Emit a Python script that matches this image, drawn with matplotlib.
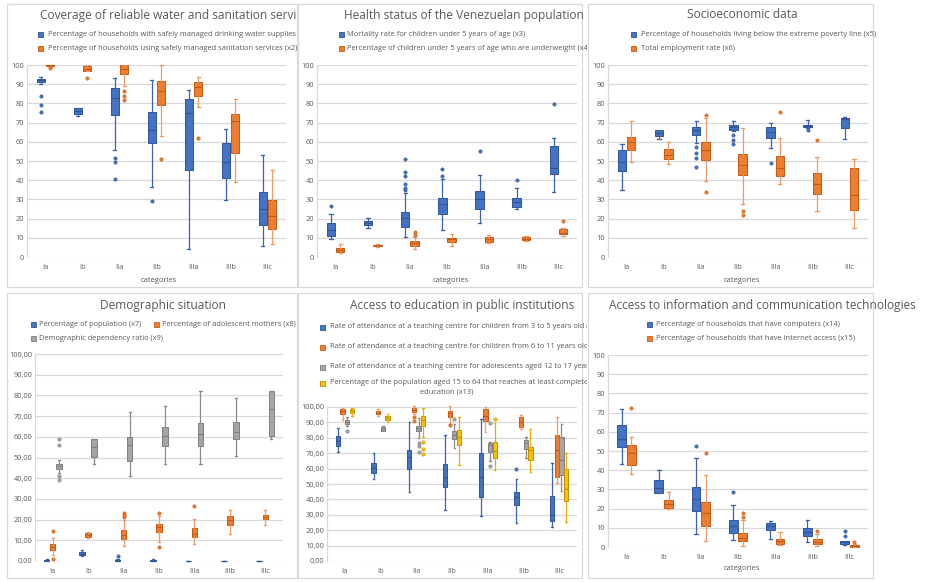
import numpy as np
import matplotlib
matplotlib.use('Agg')
import matplotlib.pyplot as plt
from matplotlib.patches import Rectangle
from matplotlib.transforms import Bbox, TransformedBbox

# box stats per category: (whisker low, q1, median, q3, whisker high)
cats = ['Ia', 'Ib', 'IIa', 'IIb', 'IIIa', 'IIIb', 'IIIc']

# --- water and sanitation
water = [(90.3, 91.0, 92.0, 92.9, 93.6), (73.6, 74.4, 76.0, 77.6, 77.6), (55.7, 73.9, 82.6, 87.8, 93.2),
         (36.7, 59.3, 66.3, 75.7, 92.0), (4.2, 45.2, 75.0, 82.4, 87.1), (29.7, 40.9, 49.6, 59.3, 66.6),
         (5.9, 16.5, 25.2, 33.6, 53.0)]
water_out = [[84, 79, 75.3], [], [51.4, 49.4, 40.5], [29], [], [], []]
sanit = [(99.2, 99.4, 99.8, 100, 100), (96.7, 96.7, 97.9, 99.3, 100), (88.9, 95.3, 97.9, 100, 100),
         (62.8, 79.1, 86.4, 91.7, 100), (78.1, 83.8, 88.5, 91.1, 93.6), (39.1, 54.4, 71.0, 74.3, 82.1),
         (7.0, 14.8, 21.6, 29.6, 45.4)]
sanit_out = [[98.3], [93], [86.3, 83.8, 81.9], [50.8], [62.1], [], []]

# --- health
mort = [(9.4, 11.1, 14.1, 17.6, 22.3), (15.0, 16.9, 17.9, 18.8, 20.2), (10.3, 15.8, 20.2, 23.5, 33.2),
        (14.1, 22.3, 27.7, 30.6, 40.6), (17.7, 24.9, 30.1, 34.6, 42.8), (24.9, 26.3, 28.7, 30.6, 35.7),
        (33.9, 43.3, 46.3, 57.9, 62.1)]
mort_out = [[26.8], [], [51, 44.3, 42, 37.9, 35.7, 34.8], [46, 42.3], [55.3], [40], [79.7]]
under = [(1.9, 2.4, 3.7, 4.5, 6.6), (5.4, 5.6, 6.0, 6.3, 6.6), (4.0, 5.9, 7.1, 8.2, 10.6),
         (5.9, 7.8, 9.2, 10.1, 11.8), (7.1, 7.8, 9.6, 10.4, 11.7), (8.3, 8.9, 9.6, 10.3, 11.1),
         (10.8, 11.8, 12.7, 14.4, 15.3)]
under_out = [[], [], [13.2, 11.3], [], [], [], [18.6]]

# --- socioeconomic
poverty = [(34.8, 44.9, 49.7, 55.8, 58.8), (61.7, 63.0, 64.5, 66.1, 66.1), (59.5, 63.7, 66.1, 67.8, 70.8),
           (65.6, 66.4, 67.8, 69.0, 70.8), (56.9, 62.1, 65.2, 67.8, 69.9), (67.0, 67.5, 68.2, 69.0, 71.1),
           (61.4, 67.1, 71.8, 72.3, 72.7)]
poverty_out = [[], [], [57.2, 54, 51.8, 46.8], [63.3, 61, 58.8], [49], [65.9], []]
employ = [(49.4, 55.5, 60.0, 62.4, 70.8), (48.3, 51.0, 53.2, 56.2, 59.8), (39.7, 50.6, 55.5, 60.0, 72.5),
          (27.7, 42.6, 47.8, 53.9, 67.1), (37.9, 42.3, 46.6, 52.7, 62.1), (23.8, 32.7, 38.1, 43.8, 52.0),
          (15.3, 24.5, 32.3, 46.6, 50.8)]
employ_out = [[], [], [74, 34], [24, 22], [75.3], [61], []]

# --- demographic
popul = [(0, 0, 0.3, 0.6, 1.1), (2.4, 2.8, 3.5, 4.4, 5.5), (0, 0, 0.2, 0.6, 1.0), (0, 0, 0.2, 0.5, 0.8),
         (0, 0, 0.05, 0.15, 0.2), (0, 0, 0.05, 0.15, 0.2), (0, 0, 0.05, 0.15, 0.2)]
popul_out = [[], [], [2.2], [], [], [], []]
mothers = [(2.7, 5.3, 6.8, 8.1, 11.3), (11.3, 11.6, 12.6, 13.4, 13.9), (7.4, 10.8, 12.6, 14.8, 19.7),
           (9.2, 14.2, 16.3, 18.1, 21.6), (8.4, 11.5, 13.1, 16.1, 20.5), (13.2, 17.6, 20.0, 21.8, 24.5),
           (17.6, 20.2, 21.3, 22.4, 24.8)]
mothers_out = [[14.7, 1.1], [], [23, 22, 21.3], [23.4, 6.8], [26.6], [], []]
depend = [(42.6, 44.5, 46.0, 46.9, 48.9), (46.8, 50.3, 55.3, 58.7, 58.7), (41.0, 48.5, 56.1, 59.7, 71.8),
          (46.8, 55.6, 60.6, 64.5, 74.8), (46.8, 55.6, 61.3, 66.6, 81.9), (50.6, 58.7, 62.3, 67.3, 78.9),
          (58.7, 60.6, 73.2, 81.9, 81.9)]
depend_out = [[59, 56, 41, 39], [], [], [], [], [], []]

# --- education
pre = [(71.1, 74.8, 78.0, 81.3, 86.2), (53.0, 56.9, 60.6, 63.6, 70.0), (44.6, 59.9, 67.5, 72.2, 90.5),
       (33.2, 47.8, 54.3, 62.9, 81.5), (29.3, 41.8, 54.3, 70.3, 92.2), (24.6, 36.2, 41.8, 44.6, 53.2),
       (22.4, 25.9, 30.0, 42.0, 63.8)]
pre_out = [[], [], [], [], [], [59.9], []]
prim = [(91.8, 95.7, 97.4, 98.5, 99.6), (94.4, 95.5, 96.3, 97.4, 98.5), (95.3, 96.6, 97.8, 99.1, 100.9),
        (89.2, 93.8, 96.1, 97.4, 100.9), (83.8, 91.2, 94.4, 98.5, 100), (85.8, 87.1, 90.1, 93.3, 95.0),
        (50.9, 54.7, 72.4, 81.9, 93.3)]
prim_out = [[], [], [93.5, 91], [88], [], [], []]
sec = [(87.9, 88.8, 90.3, 91.6, 93.3), (84.3, 84.7, 85.8, 86.9, 87.5), (79.7, 84.5, 86.4, 87.9, 92.7),
       (73.7, 79.5, 82.1, 84.3, 89.2), (65.1, 70.9, 75.2, 76.3, 77.4), (67.0, 72.8, 76.3, 78.7, 80.2),
       (45.5, 55.8, 65.5, 80.2, 88.8)]
sec_out = [[84.5], [], [76.3, 74.6, 70.5], [92], [89.4, 61.9], [], []]
compl = [(94.4, 96.1, 97.4, 98.5, 99.4), (90.1, 91.4, 92.7, 94.2, 95.5), (80.6, 87.9, 91.4, 94.4, 99.6),
         (62.3, 75.4, 80.6, 85.3, 93.3), (59.0, 67.0, 71.6, 77.2, 89.7), (57.8, 65.3, 72.0, 74.1, 86.0),
         (25.4, 38.8, 46.6, 59.5, 70.0)]
compl_out = [[], [], [77.2, 72.6, 69.2], [], [92.2], [], []]

# --- ICT
comp = [(43.3, 52.2, 56.5, 63.3, 72.1), (28.1, 28.1, 30.8, 34.7, 39.9), (6.9, 18.5, 25.0, 31.0, 46.4),
        (3.6, 7.3, 10.7, 14.2, 22.0), (4.3, 8.7, 10.9, 12.3, 13.7), (2.4, 5.9, 8.0, 10.1, 13.9),
        (0.9, 1.6, 2.4, 3.3, 3.3)]
comp_out = [[], [], [52.7], [28.6], [], [], [8.1, 5.9]]
inet = [(38.1, 42.5, 48.7, 53.0, 57.4), (19.9, 20.5, 22.5, 24.6, 28.9), (3.3, 11.1, 17.5, 23.6, 37.4),
        (0.3, 2.9, 4.5, 7.5, 13.9), (0.9, 1.7, 2.9, 4.3, 7.6), (0.3, 1.6, 2.8, 4.0, 6.6),
        (0, 0, 0.5, 1.0, 1.5)]
inet_out = [[72.3], [], [48.9], [17.5, 15.4], [], [8.3], [2.4]]

W, H = 931, 582
plt.rcParams['font.family'] = ['Open Sans', 'DejaVu Sans']
fig = plt.figure(figsize=(W / 100, H / 100), dpi=100)

TXT = '#595959'
GRID = '#d9d9d9'
BLUE, ORANGE, GRAY, YELLOW = '#4472C4', '#ED7D31', '#A5A5A5', '#FFC000'
dark = {BLUE: '#2F5597', ORANGE: '#C55A11', GRAY: '#7F7F7F', YELLOW: '#BF9000'}
whisk = {BLUE: '#3A62B0', ORANGE: '#EE9A66', GRAY: '#8A8A8A', YELLOW: '#E6AC00'}
TITLE_FS = 8.6
LEG_FS = 5.4


def fx(x):
    return x / W


def fy(y):
    return 1 - y / H


def clipbox(x1):
    return TransformedBbox(Bbox([[0, 0], [fx(x1), 1]]), fig.transFigure)


def panel_frame(x0, y0, x1, y1):
    r = Rectangle((fx(x0), fy(y1)), fx(x1 - x0), (y1 - y0) / H, transform=fig.transFigure,
                  facecolor='white', edgecolor=GRID, lw=0.9, zorder=0)
    fig.add_artist(r)


def ftext(x, y, s, size, clip=None, ha='left'):
    t = fig.text(fx(x), fy(y), s, fontsize=size, color=TXT, ha=ha, va='center')
    if clip is not None:
        t.set_clip_box(clipbox(clip))
        t.set_clip_on(True)
    return t


def legend_item(mx, tx, y, label, color, clip=None):
    s = 5
    fig.add_artist(Rectangle((fx(mx - s / 2), fy(y + s / 2)), s / W, s / H, transform=fig.transFigure,
                             facecolor=color, edgecolor=dark[color], lw=0.6))
    ftext(tx, y, label, LEG_FS, clip)


def make_axes(x0, y0, x1, y1, comma=False):
    ax = fig.add_axes([fx(x0), fy(y1), fx(x1 - x0), (y1 - y0) / H])
    ax.set_xlim(-0.5, 6.5)
    ax.set_ylim(0, 100)
    ax.set_yticks(range(0, 101, 10))
    if comma:
        ax.set_yticklabels([f'{v},00' for v in range(0, 101, 10)])
    ax.set_xticks(range(len(cats)))
    ax.set_xticklabels(cats)
    ax.grid(axis='y', color=GRID, lw=0.9)
    ax.set_axisbelow(True)
    for sp in ['top', 'right', 'bottom']:
        ax.spines[sp].set_visible(False)
    ax.spines['left'].set_color(GRID)
    ax.spines['left'].set_linewidth(0.9)
    ax.tick_params(length=0, labelsize=5.3, colors=TXT)
    ax.tick_params(axis='y', pad=2)
    ax.tick_params(axis='x', pad=5)
    ax.patch.set_alpha(0)
    return ax


def draw_boxes(ax, series, outs, colors, width):
    n = len(series)
    offs = (np.arange(n) - (n - 1) / 2) * width
    for s, o, c, d in zip(series, outs, colors, offs):
        stats = [dict(whislo=v[0], q1=v[1], med=v[2], q3=v[3], whishi=v[4], fliers=f) for v, f in zip(s, o)]
        res = ax.bxp(stats, positions=np.arange(len(s)) + d, widths=width * 0.92, patch_artist=True,
                     capwidths=width * 0.35, manage_ticks=False,
                     boxprops=dict(facecolor=c, edgecolor=dark[c], lw=0.7),
                     medianprops=dict(color=dark[c], lw=0.8),
                     whiskerprops=dict(color=whisk[c], lw=0.9),
                     capprops=dict(color=whisk[c], lw=0.9),
                     flierprops=dict(marker='o', markersize=2.4, markerfacecolor=c,
                                     markeredgecolor=dark[c], markeredgewidth=0.4))
        for arts in res.values():
            for a in arts:
                a.set_clip_on(False)


# panel frames
panel_frame(7, 4, 297, 287)
panel_frame(298, 4, 582, 287)
panel_frame(588, 4, 873, 287)
panel_frame(7, 293, 297, 578)
panel_frame(298, 293, 582, 578)
panel_frame(588, 293, 873, 578)

# 1 - water and sanitation
ax1 = make_axes(27, 65, 286, 257)
draw_boxes(ax1, [water, sanit], [water_out, sanit_out], [BLUE, ORANGE], 0.25)
ftext(40, 15, 'Coverage of reliable water and sanitation services', TITLE_FS, clip=297)
legend_item(40, 48, 34, 'Percentage of households with safely managed drinking water supplies (x1)', BLUE, clip=297)
legend_item(40, 48, 48, 'Percentage of households using safely managed sanitation services (x2)', ORANGE, clip=297)
ftext(159, 280, 'categories', 5.5, ha='center')

# 2 - health
ax2 = make_axes(317, 65, 577, 257)
draw_boxes(ax2, [mort, under], [mort_out, under_out], [BLUE, ORANGE], 0.25)
ftext(344, 15, 'Health status of the Venezuelan population', TITLE_FS, clip=587)
legend_item(341, 347, 34, 'Mortality rate for children under 5 years of age (x3)', BLUE, clip=587)
legend_item(341, 347, 48, 'Percentage of children under 5 years of age who are underweight (x4)', ORANGE, clip=587)
ftext(451, 280, 'categories', 5.5, ha='center')

# 3 - socioeconomic
ax3 = make_axes(608, 65, 868, 257)
draw_boxes(ax3, [poverty, employ], [poverty_out, employ_out], [BLUE, ORANGE], 0.25)
ftext(687, 15, 'Socioeconomic data', TITLE_FS)
legend_item(633, 641, 34, 'Percentage of households living below the extreme poverty line (x5)', BLUE)
legend_item(633, 641, 48, 'Total employment rate (x6)', ORANGE)
ftext(742, 280, 'categories', 5.5, ha='center')

# 4 - demographic
ax4 = make_axes(35, 354, 283, 561, comma=True)
draw_boxes(ax4, [popul, mothers, depend], [popul_out, mothers_out, depend_out], [BLUE, ORANGE, GRAY], 0.17)
ftext(100, 305, 'Demographic situation', TITLE_FS, clip=297)
legend_item(33, 39, 324, 'Percentage of population (x7)', BLUE, clip=297)
legend_item(156, 162, 324, 'Percentage of adolescent mothers (x8)', ORANGE, clip=297)
legend_item(33, 39, 338, 'Demographic dependency ratio (x9)', GRAY, clip=297)

# 5 - education
ax5 = make_axes(327, 407, 577, 561, comma=True)
draw_boxes(ax5, [pre, prim, sec, compl], [pre_out, prim_out, sec_out, compl_out],
           [BLUE, ORANGE, GRAY, YELLOW], 0.13)
ftext(350, 305, 'Access to education in public institutions', TITLE_FS, clip=587)
legend_item(322, 330, 327, 'Rate of attendance at a teaching centre for children from 3 to 5 years old (x10)', BLUE, clip=587)
legend_item(322, 330, 347, 'Rate of attendance at a teaching centre for children from 6 to 11 years old (x11)', ORANGE, clip=587)
legend_item(322, 330, 367, 'Rate of attendance at a teaching centre for adolescents aged 12 to 17 years old (x12)', GRAY, clip=587)
legend_item(322, 330, 383, 'Percentage of the population aged 15 to 64 that reaches at least completed secondary', YELLOW, clip=587)
ftext(447, 392, 'education (x13)', LEG_FS, clip=587, ha='center')

# 6 - ICT
ax6 = make_axes(608, 355, 868, 547)
draw_boxes(ax6, [comp, inet], [comp_out, inet_out], [BLUE, ORANGE], 0.26)
ftext(609, 305, 'Access to information and communication technologies', TITLE_FS)
legend_item(649, 656, 324, 'Percentage of households that have computers (x14)', BLUE)
legend_item(649, 656, 338, 'Percentage of households that have internet access (x15)', ORANGE)
ftext(742, 569, 'categories', 5.5, ha='center')

fig.savefig('out.png', dpi=100)
